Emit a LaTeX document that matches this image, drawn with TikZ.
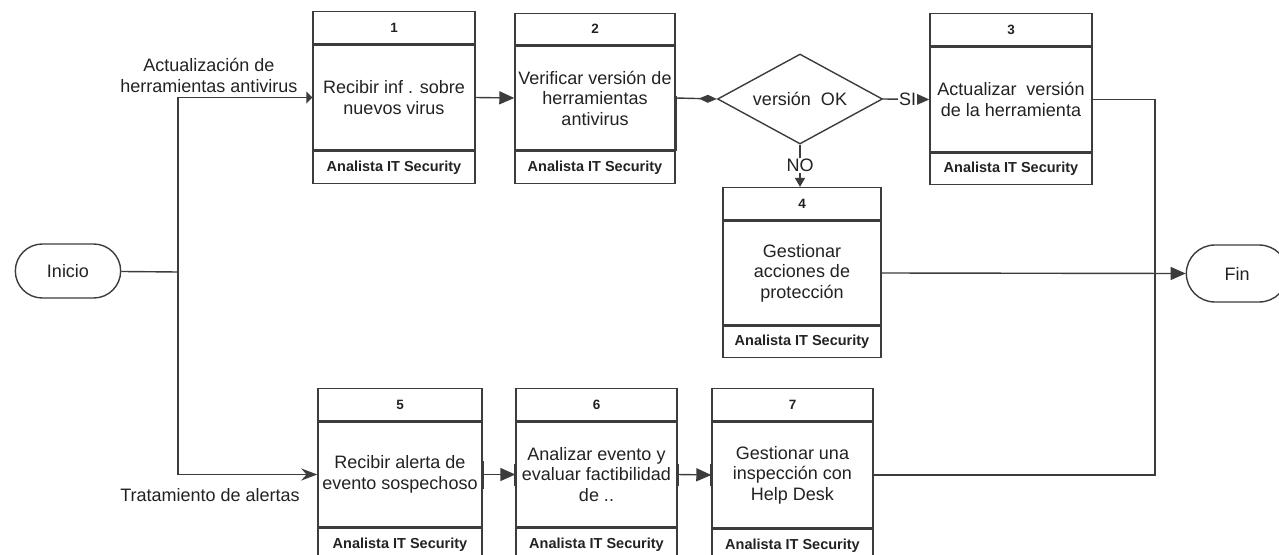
\documentclass[tikz,border=0pt]{standalone}
\usepackage{fontspec}
\setmainfont{Liberation Sans}
\usetikzlibrary{arrows.meta,shapes.geometric,shapes.misc}

\definecolor{ink}{HTML}{222222}
\definecolor{edge}{HTML}{3C3C3C}

\begin{document}
\begin{tikzpicture}[x=1pt,y=-1pt,
  box/.style={draw=edge,line width=1.4pt,inner sep=0pt,align=center,text=ink},
  body/.style={box,font=\fontsize{18}{20.5}\selectfont},
  hdr/.style={box,font=\bfseries\fontsize{13.5}{15}\selectfont,minimum height=32pt,anchor=south},
  ftr/.style={box,font=\bfseries\fontsize{14.5}{16}\selectfont,minimum height=32pt,anchor=north},
  term/.style={rounded rectangle,draw=edge,line width=1.4pt,text=ink,font=\fontsize{18}{20}\selectfont},
  wire/.style={draw=edge,line width=1.4pt},
  tri/.style={wire,-{Triangle[length=15pt,width=13pt]}},
  lbl/.style={text=ink,font=\fontsize{18}{21}\selectfont,align=center},
  tick/.style={draw=edge,line width=2.4pt},
]
\useasboundingbox (0,0) rectangle (1279,554);

% terminals
\node[term,minimum width=112pt,minimum height=54pt] (ini) at (68,271) {Inicio};
\node[term,minimum width=108pt,minimum height=57pt] (fin) at (1237,273.5) {Fin};

% upper branch
\node[body,minimum width=162pt,minimum height=105pt] (b1) at (394,97.5) {Recibir inf . sobre\\nuevos virus};
\node[hdr,minimum width=162pt] (h1) at (b1.north) {1};
\node[ftr,minimum width=162pt] (f1) at (b1.south) {Analista IT Security};

\node[body,minimum width=160pt,minimum height=104pt] (b2) at (595,98) {Verificar versión de\\herramientas\\antivirus};
\node[hdr,minimum width=160pt,minimum height=31pt] (h2) at (b2.north) {2};
\node[ftr,minimum width=160pt] (f2) at (b2.south) {Analista IT Security};

\node[diamond,aspect=1.83,draw=edge,line width=1.4pt,inner sep=0pt,minimum width=165pt,minimum height=90pt,
      text=ink,font=\fontsize{18}{20}\selectfont] (d) at (800,99) {versión~~OK};

\node[body,minimum width=162pt,minimum height=105pt] (b3) at (1011,99.5) {Actualizar~~versión\\de la herramienta};
\node[hdr,minimum width=162pt] (h3) at (b3.north) {3};
\node[ftr,minimum width=162pt,minimum height=31pt] (f3) at (b3.south) {Analista IT Security};

\node[body,minimum width=158pt,minimum height=104pt] (b4) at (802,273) {Gestionar\\acciones de\\protección};
\node[hdr,minimum width=158pt] (h4) at (b4.north) {4};
\node[ftr,minimum width=158pt,minimum height=31pt] (f4) at (b4.south) {Analista IT Security};

% lower branch
\node[body,minimum width=164pt,minimum height=105pt] (b5) at (400,474.5) {Recibir alerta de\\evento sospechoso};
\node[hdr,minimum width=164pt] (h5) at (b5.north) {5};
\node[ftr,minimum width=164pt] (f5) at (b5.south) {Analista IT Security};

\node[body,minimum width=161pt,minimum height=105pt] (b6) at (596.5,474.5) {Analizar evento y\\evaluar factibilidad\\de ..};
\node[hdr,minimum width=161pt] (h6) at (b6.north) {6};
\node[ftr,minimum width=161pt] (f6) at (b6.south) {Analista IT Security};

\node[body,minimum width=161pt,minimum height=106pt] (b7) at (792.5,475) {Gestionar una\\inspección con\\Help Desk};
\node[hdr,minimum width=161pt] (h7) at (b7.north) {7};
\node[ftr,minimum width=161pt] (f7) at (b7.south) {Analista IT Security};

% branch labels
\node[lbl] (l1) at (209,75) {Actualización de\\herramientas antivirus};
\node[lbl] (l2) at (210,495) {Tratamiento de alertas};

% split after the start
\coordinate (j) at (178,272);
\coordinate (m) at (1155,273.5);
\draw[wire] (ini) -- (j);
\draw[wire,line width=1.8pt,-{Triangle[length=6pt,width=12pt]}] (j) |- (b1.west);
\draw[wire,line width=1.8pt,-{Stealth[length=16pt,width=12pt]}] (j) |- (b5.west);

% upper flow
\draw[tri] (b1.east) -- (b2.west);
\draw[wire,-{Diamond[length=18pt,width=8pt]}] (b2.east) -- (d.west);
\draw[tri] (d.east) -- node[pos=0.53,fill=white,inner sep=1pt,text=ink,font=\fontsize{18}{20}\selectfont] (si) {SI} (b3.west);
\draw[wire,-{Triangle[length=9pt,width=10pt]}] (d.south) -- node[pos=0.5,fill=white,inner sep=1pt,text=ink,font=\fontsize{18}{20}\selectfont] (no) {NO} (d.south |- h4.north);

% lower flow
\draw[tri] (b5.east) -- (b6.west);
\draw[tri] (b6.east) -- (b7.west);

% joins towards the end
\draw[wire] (b3.east) -| (m);
\draw[wire] (b7.east) -| (m);
\draw[tri] (b4.east) -- (fin.west);

% heavier edge segments at the connection points
\draw[tick] ([yshift=-14pt]b5.east) -- ([yshift=14pt]b5.east);
\draw[tick] ([yshift=-11pt]b6.west) -- ([yshift=11pt]b6.west);
\draw[tick] ([yshift=-11pt]b6.east) -- ([yshift=11pt]b6.east);
\draw[tick] ([yshift=-11pt]b7.west) -- ([yshift=11pt]b7.west);
\draw[tick,line width=2pt] ([yshift=2pt]b2.east) -- (b2.south east);
\end{tikzpicture}
\end{document}
